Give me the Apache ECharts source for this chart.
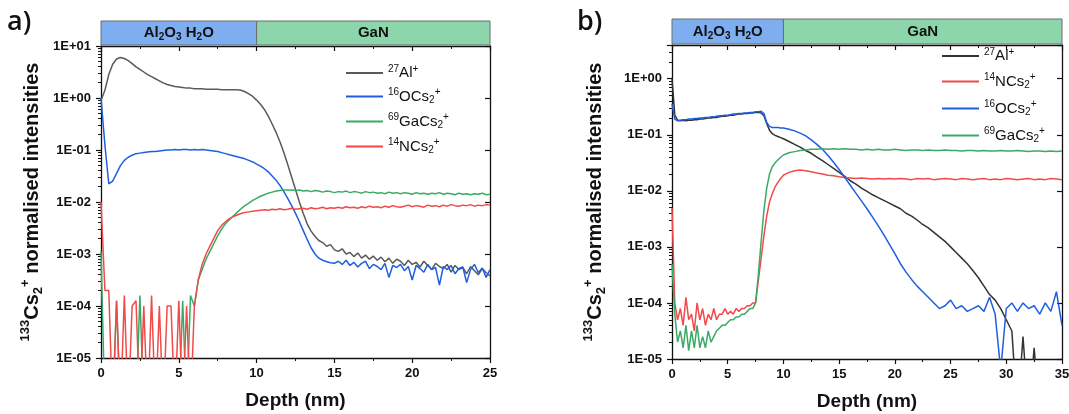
<!DOCTYPE html>
<html><head><meta charset="utf-8">
<script src="https://cdn.jsdelivr.net/npm/echarts@6/dist/echarts.min.js"></script>
<style>html,body{margin:0;padding:0;background:#fff}#c{width:1069px;height:414px}</style>
</head><body><div id="c"></div>
<script>
// ---------- DATA (values stored as log10 of the normalised intensity) ----------
const depthA = [0,0.25,0.5,0.75,1,1.25,1.5,1.75,2,2.25,2.5,2.75,3,3.25,3.5,3.75,4,4.25,4.5,4.75,5,5.25,5.5,5.75,6,6.25,6.5,6.75,7,7.25,7.5,7.75,8,8.25,8.5,8.75,9,9.25,9.5,9.75,10,10.25,10.5,10.75,11,11.25,11.5,11.75,12,12.25,12.5,12.75,13,13.25,13.5,13.75,14,14.25,14.5,14.75,15,15.25,15.5,15.75,16,16.25,16.5,16.75,17,17.25,17.5,17.75,18,18.25,18.5,18.75,19,19.25,19.5,19.75,20,20.25,20.5,20.75,21,21.25,21.5,21.75,22,22.25,22.5,22.75,23,23.25,23.5,23.75,24,24.25,24.5,24.75,25];

const alA_log = [-0.05,0.15,0.45,0.65,0.75,0.78,0.76,0.72,0.66,0.60,
0.55,0.50,0.45,0.41,0.37,0.33,0.29,0.26,0.24,0.22,
0.21,0.20,0.19,0.19,0.18,0.18,0.18,0.17,0.17,0.17,
0.17,0.16,0.16,0.16,0.16,0.16,0.15,0.12,0.08,0.03,
-0.04,-0.12,-0.22,-0.35,-0.5,-0.66,-0.84,-1.05,-1.28,-1.52,
-1.76,-2.0,-2.22,-2.42,-2.56,-2.66,-2.74,-2.78,-2.85,-2.82,
-2.92,-2.95,-2.9,-3.0,-2.97,-3.05,-2.98,-3.08,-3.02,-3.1,
-3.04,-3.12,-3.06,-3.15,-3.08,-3.18,-3.1,-3.14,-3.22,-3.12,
-3.2,-3.16,-3.25,-3.14,-3.22,-3.3,-3.18,-3.24,-3.28,-3.2,
-3.35,-3.22,-3.3,-3.26,-3.38,-3.24,-3.32,-3.4,-3.28,-3.36,-3.42];

const oA_log = [0.0,-0.9,-1.65,-1.6,-1.45,-1.3,-1.2,-1.14,-1.1,-1.07,
-1.06,-1.05,-1.04,-1.03,-1.03,-1.02,-1.01,-1.0,-1.0,-0.99,
-1.0,-0.99,-0.99,-1.0,-0.99,-1.0,-0.99,-1.0,-1.01,-1.02,
-1.03,-1.05,-1.07,-1.09,-1.11,-1.13,-1.15,-1.17,-1.2,-1.23,
-1.27,-1.31,-1.36,-1.42,-1.5,-1.58,-1.68,-1.8,-1.93,-2.07,
-2.22,-2.38,-2.55,-2.72,-2.88,-3.0,-3.08,-3.12,-3.15,-3.17,
-3.18,-3.14,-3.2,-3.12,-3.22,-3.16,-3.25,-3.18,-3.14,-3.28,
-3.2,-3.24,-3.3,-3.18,-3.45,-3.22,-3.26,-3.2,-3.32,-3.24,
-3.5,-3.22,-3.28,-3.35,-3.2,-3.3,-3.26,-3.6,-3.24,-3.3,
-3.22,-3.38,-3.28,-3.25,-3.55,-3.3,-3.2,-3.36,-3.27,-3.45,-3.3];

const gaA_log = [-2.95,-6,-6,-6,-3.9,-6,-6,-6,-6,-6,
-3.8,-6,-6,-6,-6,-6,-6,-6,-6,-6,
-6,-3.9,-6,-3.8,-4.0,-3.5,-3.3,-3.1,-2.95,-2.8,
-2.65,-2.52,-2.42,-2.34,-2.27,-2.2,-2.13,-2.07,-2.02,-1.97,
-1.93,-1.89,-1.86,-1.83,-1.81,-1.79,-1.78,-1.77,-1.77,
-1.77,-1.78,-1.77,-1.79,-1.78,-1.8,-1.78,-1.79,-1.81,-1.79,
-1.8,-1.82,-1.8,-1.81,-1.79,-1.82,-1.8,-1.81,-1.83,-1.8,
-1.82,-1.81,-1.83,-1.82,-1.84,-1.81,-1.83,-1.82,-1.84,-1.82,
-1.83,-1.85,-1.82,-1.84,-1.83,-1.85,-1.83,-1.84,-1.82,-1.85,
-1.83,-1.84,-1.86,-1.83,-1.85,-1.84,-1.86,-1.84,-1.85,-1.83,
-1.86,-1.85];

const nA_log = [-2.0,-3.7,-3.7,-6,-3.9,-6,-3.8,-6,-4.0,-3.9,
-6,-4.0,-6,-3.8,-6,-4.0,-6,-4.0,-4.0,-6,
-3.9,-6,-4.0,-6,-4.0,-3.5,-3.2,-3.0,-2.85,-2.7,
-2.55,-2.45,-2.38,-2.32,-2.28,-2.25,-2.22,-2.2,-2.19,-2.18,
-2.17,
-2.16,-2.15,-2.16,-2.14,-2.15,-2.13,-2.15,-2.14,-2.12,-2.14,
-2.13,-2.12,-2.14,-2.11,-2.13,-2.12,-2.1,-2.13,-2.11,-2.12,
-2.1,-2.12,-2.09,-2.11,-2.1,-2.12,-2.09,-2.11,-2.08,-2.1,
-2.09,-2.11,-2.08,-2.1,-2.07,-2.09,-2.1,-2.08,-2.06,-2.09,
-2.07,-2.08,-2.1,-2.06,-2.08,-2.07,-2.09,-2.06,-2.08,-2.05,
-2.07,-2.08,-2.06,-2.07,-2.05,-2.08,-2.06,-2.07,-2.05,-2.06];

const depthB = [0,0.25,0.5,0.75,1,1.25,1.5,1.75,2,2.25,2.5,2.75,3,3.25,3.5,3.75,4,4.25,4.5,4.75,5,5.25,5.5,5.75,6,6.25,6.5,6.75,7,7.25,7.5,7.75,8,8.25,8.5,8.75,9,9.25,9.5,9.75,10,10.5,11,11.5,12,12.5,13,13.5,14,14.5,15,15.5,16,16.5,17,17.5,18,18.5,19,19.5,20,20.5,21,21.5,22,22.5,23,23.5,24,24.5,25,25.5,26,26.5,27,27.5,28,28.5,29,29.5,30,30.5,31,31.5,32,32.5,33,33.5,34,34.5,35];

const alB_log = [0,-0.65,-0.74,-0.75,-0.74,-0.75,-0.74,-0.74,-0.73,-0.73,
-0.72,-0.72,-0.71,-0.70,-0.70,-0.69,-0.69,-0.68,-0.67,-0.67,
-0.66,-0.65,-0.65,-0.64,-0.63,-0.63,-0.62,-0.62,-0.61,-0.61,
-0.60,-0.60,-0.61,-0.66,-0.80,-0.92,-0.98,-1.01,-1.03,-1.05,
-1.07,
-1.12,-1.17,-1.22,-1.28,-1.33,-1.4,-1.46,-1.53,-1.6,-1.67,
-1.74,-1.82,-1.88,-1.95,-2.01,-2.07,-2.12,-2.17,-2.22,-2.27,
-2.32,-2.4,-2.45,-2.52,-2.6,-2.66,-2.74,-2.82,-2.9,-3.0,
-3.1,-3.2,-3.3,-3.42,-3.55,-3.7,-3.85,-3.95,-4.1,-4.3,
-4.5,-6,-4.6,-6,-4.8,-6,-6,-6,-6,-6];

const nB_log = [-2.3,-4.0,-4.3,-4.1,-4.4,-3.9,-4.3,-4.2,-4.5,-4.0,
-4.3,-4.1,-4.4,-4.2,-4.3,-4.1,-4.3,-4.2,-4.2,-4.1,
-4.2,-4.15,-4.2,-4.1,-4.15,-4.1,-4.1,-4.05,-4.05,-4.0,
-4.0,-3.6,-3.2,-2.8,-2.45,-2.2,-2.05,-1.93,-1.85,-1.78,
-1.72,
-1.67,-1.64,-1.63,-1.64,-1.66,-1.68,-1.7,-1.72,-1.73,-1.75,
-1.76,-1.77,-1.78,-1.77,-1.78,-1.79,-1.78,-1.79,-1.78,-1.79,
-1.78,-1.79,-1.8,-1.78,-1.79,-1.78,-1.8,-1.79,-1.78,-1.79,
-1.8,-1.78,-1.79,-1.8,-1.79,-1.78,-1.8,-1.79,-1.8,-1.78,
-1.79,-1.8,-1.79,-1.78,-1.8,-1.79,-1.8,-1.78,-1.79,-1.8];

const oB_log = [-0.45,-0.72,-0.75,-0.74,-0.73,-0.73,-0.72,-0.72,-0.71,-0.71,
-0.70,-0.70,-0.69,-0.69,-0.68,-0.68,-0.67,-0.66,-0.66,-0.65,
-0.65,-0.64,-0.63,-0.63,-0.62,-0.62,-0.61,-0.61,-0.60,-0.60,
-0.59,-0.59,-0.58,-0.62,-0.78,-0.85,-0.87,-0.87,-0.87,-0.88,
-0.88,
-0.9,-0.93,-0.97,-1.02,-1.09,-1.17,-1.26,-1.37,-1.49,-1.62,
-1.76,-1.9,-2.04,-2.18,-2.32,-2.47,-2.62,-2.78,-2.95,-3.12,
-3.3,-3.45,-3.58,-3.7,-3.8,-3.9,-4.0,-4.1,-4.05,-3.95,
-4.1,-4.05,-4.15,-4.1,-4.05,-4.15,-3.9,-4.2,-5.2,-4.1,
-4.0,-4.15,-4.0,-4.1,-4.05,-4.2,-4.0,-4.15,-3.8,-4.4];

const gaB_log = [-3.3,-4.2,-4.7,-4.5,-4.8,-4.4,-4.85,-4.5,-4.8,-4.4,
-4.8,-4.6,-4.8,-4.5,-4.7,-4.6,-4.5,-4.45,-4.4,-4.4,
-4.35,-4.3,-4.3,-4.25,-4.25,-4.2,-4.2,-4.15,-4.1,-4.1,
-4.0,-3.5,-2.9,-2.35,-1.95,-1.7,-1.57,-1.5,-1.45,-1.4,
-1.36,
-1.32,-1.3,-1.28,-1.27,-1.26,-1.26,-1.25,-1.26,-1.25,-1.26,
-1.25,-1.26,-1.26,-1.27,-1.26,-1.27,-1.26,-1.27,-1.27,-1.26,
-1.27,-1.28,-1.27,-1.27,-1.28,-1.27,-1.28,-1.28,-1.27,-1.28,
-1.28,-1.29,-1.28,-1.28,-1.29,-1.28,-1.29,-1.29,-1.28,-1.29,
-1.29,-1.28,-1.29,-1.3,-1.29,-1.29,-1.3,-1.29,-1.3,-1.29];

const layerEdgesA = [0, 10, 25];
const layerEdgesB = [0, 10, 35];
const layerLabels = ['{t|Al}{s|2}{t|O}{s|3}{t| H}{s|2}{t|O}', '{t|GaN}'];
const legendA = ['a27Al', 'a16O', 'a69Ga', 'a14N'];
const legendB = ['b27Al', 'b14N', 'b16O', 'b69Ga'];
const legendText = {
  '27Al': '{p|27}{n|Al}{p|+}',
  '16O': '{p|16}{n|OCs}{b|2}{p|+}',
  '69Ga': '{p|69}{n|GaCs}{b|2}{p|+}',
  '14N': '{p|14}{n|NCs}{b|2}{p|+}'
};
const yTitle = '{p|133}{n|Cs}{b|2}{p|+}{n| normalised intensities}';
const xTitle = 'Depth (nm)';
const yMinA = -5, yMaxA = 1;
const yMinB = -5, yMaxB = Math.log10(4);

// ---------- STYLE ----------
const FONT = '"Liberation Sans", Arial, sans-serif';
const INK = '#111';
const COL = { alA: '#5a5a5a', alB: '#333333', o: '#1f5fdf', ga: '#3aaa66', n: '#f24a4a' };
const LAYER_COL = ['#7eaef0', '#8dd6ab'];

function minorVals(lo, hi) {
  const out = [];
  for (let n = lo; n < hi; n++) for (let k = 2; k <= 9; k++) {
    const v = n + Math.log10(k);
    if (v <= hi + 1e-9) out.push(v);
  }
  return out;
}
function yFmt(v) {
  const r = Math.round(v);
  if (Math.abs(v - r) > 1e-6) return '';
  return '1E' + (r < 0 ? '-' : '+') + String(Math.abs(r)).padStart(2, '0');
}
const pts = (d, y) => d.map((x, i) => [x, y[i]]);

const lineAx = { onZero: false, lineStyle: { color: INK, width: 1.3 } };
function xAxesFor(grid, max) {
  return [
    { gridIndex: grid, type: 'value', min: 0, max: max, interval: 5, position: 'bottom',
      axisLine: lineAx, axisTick: { show: true, inside: false, length: 5, lineStyle: { color: INK, width: 1.2 } },
      minorTick: { show: true, splitNumber: 2, length: 3, lineStyle: { color: INK, width: 1 } },
      axisLabel: { color: INK, fontFamily: FONT, fontWeight: 'bold', fontSize: 13, margin: 9 },
      splitLine: { show: false }, minorSplitLine: { show: false },
      name: xTitle, nameLocation: 'middle', nameGap: 33,
      nameTextStyle: { fontFamily: FONT, fontWeight: 'bold', fontSize: 19, color: INK } },
    { gridIndex: grid, type: 'value', min: 0, max: max, interval: 5, position: 'top',
      axisLine: lineAx, axisTick: { show: true, inside: true, length: 5, lineStyle: { color: INK, width: 1.2 } },
      minorTick: { show: true, splitNumber: 2, length: 3, lineStyle: { color: INK, width: 1 } },
      axisLabel: { show: false }, splitLine: { show: false } }
  ];
}
function yAxesFor(grid, min, max, nameGap) {
  const minors = minorVals(min, max);
  const base = { gridIndex: grid, type: 'value', min: min, max: max, interval: 1, splitLine: { show: false } };
  return [
    Object.assign({}, base, { position: 'left', axisLine: lineAx,
      axisTick: { show: true, inside: false, length: 5, lineStyle: { color: INK, width: 1.2 } },
      axisLabel: { color: INK, fontFamily: FONT, fontWeight: 'bold', fontSize: 13, margin: 10, formatter: yFmt },
      name: yTitle, nameLocation: 'middle', nameGap: nameGap,
      nameTextStyle: { color: INK, rich: {
        n: { fontFamily: FONT, fontWeight: 'bold', fontSize: 20, lineHeight: 26, color: INK },
        p: { fontFamily: FONT, fontWeight: 'bold', fontSize: 13, lineHeight: 13, verticalAlign: 'top', color: INK },
        b: { fontFamily: FONT, fontWeight: 'bold', fontSize: 13, lineHeight: 13, verticalAlign: 'bottom', color: INK } } } }),
    Object.assign({}, base, { position: 'left', axisLine: { show: false },
      axisTick: { show: true, inside: false, length: 3, customValues: minors, lineStyle: { color: INK, width: 1 } },
      axisLabel: { show: false } }),
    Object.assign({}, base, { position: 'right', axisLine: lineAx,
      axisTick: { show: true, inside: true, length: 5, lineStyle: { color: INK, width: 1.2 } },
      axisLabel: { show: false } }),
    Object.assign({}, base, { position: 'right', axisLine: { show: false },
      axisTick: { show: true, inside: true, length: 3, customValues: minors, lineStyle: { color: INK, width: 1 } },
      axisLabel: { show: false } })
  ];
}
function headerAxes(grid, max) {
  return {
    x: { gridIndex: grid, type: 'value', min: 0, max: max, show: false },
    y: { gridIndex: grid, type: 'value', min: 0, max: 1, show: false }
  };
}
function headerSeries(xi, yi, edges) {
  const areas = [];
  for (let i = 0; i < edges.length - 1; i++) {
    areas.push([
      { xAxis: edges[i], yAxis: 0, itemStyle: { color: LAYER_COL[i], borderColor: '#6d6d6d', borderWidth: 1 },
        label: { show: true, position: 'inside', formatter: layerLabels[i],
          rich: { t: { fontFamily: FONT, fontWeight: 'bold', fontSize: 15, lineHeight: 19, color: INK },
                  s: { fontFamily: FONT, fontWeight: 'bold', fontSize: 10, lineHeight: 10, verticalAlign: 'bottom', color: INK } } } },
      { xAxis: edges[i + 1], yAxis: 1 }
    ]);
  }
  return { type: 'line', xAxisIndex: xi, yAxisIndex: yi, data: [[0, 0.5]], symbol: 'none',
    lineStyle: { width: 0 }, silent: true, markArea: { silent: true, data: areas } };
}
function ser(name, xi, yi, d, y, color) {
  return { name: name, type: 'line', xAxisIndex: xi, yAxisIndex: yi, data: pts(d, y), symbol: 'none',
    showSymbol: false, clip: true, lineStyle: { color: color, width: 1.5 }, itemStyle: { color: color } };
}
const legendRich = {
  n: { fontFamily: FONT, fontSize: 15, lineHeight: 18, color: INK },
  p: { fontFamily: FONT, fontSize: 10, lineHeight: 10, verticalAlign: 'top', color: INK },
  b: { fontFamily: FONT, fontSize: 10, lineHeight: 10, verticalAlign: 'bottom', color: INK }
};
const legFmt = name => legendText[name.slice(1)];

const hA = headerAxes(1, 25), hB = headerAxes(3, 35);
const option = {
  animation: false,
  backgroundColor: '#fff',
  grid: [
    { left: 101, right: 579, top: 46, bottom: 56, containLabel: false, outerBoundsMode: 'none' },
    { left: 101, right: 579, top: 21, height: 24, containLabel: false, outerBoundsMode: 'none' },
    { left: 672, right: 7, top: 45, bottom: 55, containLabel: false, outerBoundsMode: 'none' },
    { left: 672, right: 7, top: 19, height: 25, containLabel: false, outerBoundsMode: 'none' }
  ],
  xAxis: [...xAxesFor(0, 25), hA.x, ...xAxesFor(2, 35), hB.x],
  yAxis: [...yAxesFor(0, yMinA, yMaxA, 56), hA.y, ...yAxesFor(2, yMinB, yMaxB, 64), hB.y],
  legend: [
    { data: legendA, orient: 'vertical', left: 341, top: 59, icon: 'rect', itemWidth: 37, itemHeight: 2, itemGap: 7,
      formatter: legFmt, textStyle: { rich: legendRich }, selectedMode: false },
    { data: legendB, orient: 'vertical', left: 937, top: 42, icon: 'rect', itemWidth: 37, itemHeight: 2, itemGap: 9,
      formatter: legFmt, textStyle: { rich: legendRich }, selectedMode: false }
  ],
  graphic: [
    { type: 'text', left: 7, top: 9, style: { text: 'a)', font: '600 27px "Open Sans", sans-serif', fill: INK } },
    { type: 'text', left: 577, top: 9, style: { text: 'b)', font: '600 27px "Open Sans", sans-serif', fill: INK } }
  ],
  series: [
    headerSeries(2, 4, layerEdgesA),
    ser('a27Al', 0, 0, depthA, alA_log, COL.alA),
    ser('a16O', 0, 0, depthA, oA_log, COL.o),
    ser('a69Ga', 0, 0, depthA, gaA_log, COL.ga),
    ser('a14N', 0, 0, depthA, nA_log, COL.n),
    headerSeries(5, 9, layerEdgesB),
    ser('b27Al', 3, 5, depthB, alB_log, COL.alB),
    ser('b14N', 3, 5, depthB, nB_log, COL.n),
    ser('b16O', 3, 5, depthB, oB_log, COL.o),
    ser('b69Ga', 3, 5, depthB, gaB_log, COL.ga)
  ]
};
const chart = echarts.init(document.getElementById('c'), null, { renderer: 'canvas' });
chart.setOption(option);
</script></body></html>
